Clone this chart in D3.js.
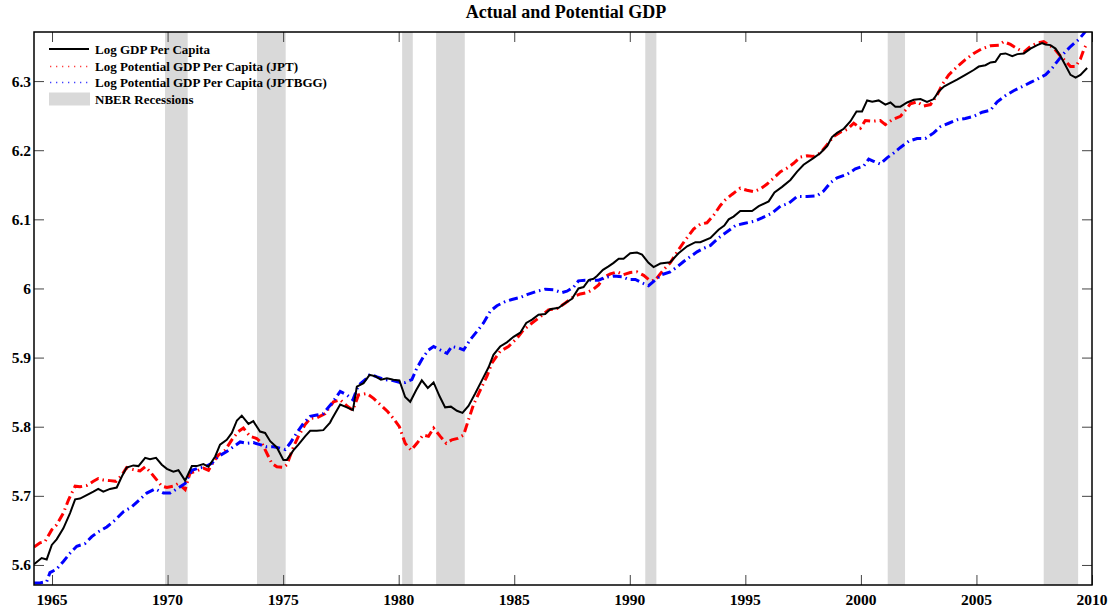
<!DOCTYPE html>
<html>
<meta charset="utf-8">
<style>
body {
	margin: 0;
	background: #fff;
}
svg {
	display: block;
}
text {
	font-family: "Liberation Serif", "Times New Roman", Times, serif;
	font-weight: bold;
}
.axis path {
	display: none;
}
.axis .tick line {
	stroke: #444;
	stroke-width: 1;
}
</style>
<body>
<script src="https://d3js.org/d3.v7.min.js"></script>
<script>
var title = "Actual and Potential GDP";
var seriesNames = ["Log GDP Per Capita", "Log Potential GDP Per Capita (JPT)", "Log Potential GDP Per Capita (JPTBGG)", "NBER Recessions"];
var xTicks = [1965, 1970, 1975, 1980, 1985, 1990, 1995, 2000, 2005, 2010];
var yTicks = [5.6, 5.7, 5.8, 5.9, 6.0, 6.1, 6.2, 6.3];

// NBER recession start / end
var recessions = [[1969.89, 1970.87], [1973.87, 1975.11], [1980.15, 1980.61], [1981.62, 1982.86],
	[1990.67, 1991.15], [2001.16, 2001.91], [2007.91, 2009.40]];

// log GDP per capita (year, value)
var gdp = [[1964.22,5.601],[1964.55,5.610],[1964.77,5.608],[1964.99,5.629],[1965.20,5.637],[1965.49,5.653],
	[1965.78,5.675],[1966.00,5.695],[1966.21,5.696],[1966.50,5.701],[1966.79,5.706],[1967.00,5.710],
	[1967.22,5.706],[1967.51,5.710],[1967.80,5.712],[1968.02,5.728],[1968.23,5.741],[1968.52,5.744],
	[1968.74,5.743],[1969.03,5.755],[1969.24,5.753],[1969.50,5.755],[1969.75,5.745],[1969.97,5.739],
	[1970.25,5.735],[1970.47,5.737],[1970.76,5.722],[1971.05,5.743],[1971.26,5.743],[1971.55,5.746],
	[1971.77,5.742],[1972.06,5.757],[1972.27,5.774],[1972.56,5.781],[1972.78,5.791],[1973.00,5.809],
	[1973.21,5.816],[1973.50,5.804],[1973.71,5.808],[1974.00,5.793],[1974.22,5.791],[1974.44,5.779],
	[1974.73,5.770],[1975.01,5.752],[1975.16,5.752],[1975.45,5.766],[1975.66,5.774],[1975.95,5.786],
	[1976.17,5.794],[1976.46,5.794],[1976.74,5.795],[1977.03,5.806],[1977.11,5.811],[1977.47,5.832],
	[1977.76,5.828],[1978.02,5.824],[1978.19,5.858],[1978.48,5.863],[1978.74,5.875],[1978.98,5.873],
	[1979.23,5.868],[1979.49,5.870],[1979.77,5.868],[1980.03,5.867],[1980.28,5.843],[1980.50,5.836],
	[1980.76,5.853],[1981.00,5.867],[1981.26,5.856],[1981.51,5.864],[1981.77,5.844],[1982.01,5.828],
	[1982.26,5.829],[1982.52,5.823],[1982.76,5.820],[1983.02,5.830],[1983.31,5.848],[1983.60,5.867],
	[1983.89,5.886],[1984.10,5.904],[1984.39,5.916],[1984.68,5.922],[1984.97,5.930],[1985.26,5.936],
	[1985.52,5.950],[1985.77,5.955],[1986.05,5.962],[1986.34,5.963],[1986.56,5.970],[1986.92,5.972],
	[1987.21,5.979],[1987.50,5.985],[1987.78,6.000],[1988.00,6.002],[1988.22,6.012],[1988.43,6.014],
	[1988.58,6.018],[1988.84,6.027],[1989.08,6.032],[1989.30,6.037],[1989.52,6.043],[1989.73,6.043],
	[1990.02,6.051],[1990.31,6.052],[1990.53,6.049],[1990.81,6.037],[1991.03,6.031],[1991.32,6.036],
	[1991.75,6.038],[1992.11,6.051],[1992.48,6.061],[1992.84,6.067],[1993.05,6.067],[1993.49,6.073],
	[1993.84,6.085],[1994.09,6.091],[1994.28,6.100],[1994.49,6.104],[1994.78,6.112],[1995.29,6.112],
	[1995.58,6.119],[1996.01,6.126],[1996.26,6.139],[1996.59,6.147],[1996.95,6.157],[1997.24,6.169],
	[1997.52,6.179],[1997.96,6.189],[1998.25,6.196],[1998.54,6.206],[1998.75,6.219],[1998.97,6.225],
	[1999.26,6.231],[1999.55,6.242],[1999.81,6.256],[2000.05,6.256],[2000.27,6.272],[2000.49,6.270],
	[2000.77,6.272],[2001.06,6.266],[2001.28,6.269],[2001.49,6.263],[2001.71,6.263],[2002.00,6.269],
	[2002.29,6.273],[2002.58,6.274],[2002.86,6.270],[2003.15,6.274],[2003.37,6.285],[2003.59,6.292],
	[2003.87,6.297],[2004.16,6.302],[2004.52,6.309],[2004.88,6.316],[2005.10,6.321],[2005.39,6.323],
	[2005.61,6.327],[2005.82,6.328],[2006.04,6.339],[2006.26,6.340],[2006.55,6.336],[2006.77,6.339],
	[2007.05,6.340],[2007.34,6.347],[2007.63,6.352],[2007.84,6.355],[2007.99,6.353],[2008.20,6.352],
	[2008.42,6.347],[2008.64,6.336],[2008.85,6.323],[2009.07,6.309],[2009.29,6.305],[2009.50,6.309],
	[2009.79,6.319]];

// log potential GDP per capita, JPT
var jpt = [[1964.22,5.626],[1964.48,5.632],[1964.70,5.634],[1964.99,5.651],[1965.20,5.658],[1965.49,5.675],
	[1965.71,5.694],[1966.00,5.714],[1966.21,5.713],[1966.50,5.715],[1966.79,5.721],[1967.00,5.725],
	[1967.22,5.723],[1967.51,5.722],[1967.77,5.721],[1968.02,5.730],[1968.23,5.741],[1968.52,5.738],
	[1968.81,5.736],[1969.03,5.742],[1969.24,5.735],[1969.53,5.723],[1969.75,5.714],[1969.97,5.712],
	[1970.25,5.714],[1970.47,5.718],[1970.76,5.709],[1970.97,5.733],[1971.26,5.736],[1971.55,5.740],
	[1971.77,5.737],[1971.98,5.749],[1972.20,5.759],[1972.49,5.766],[1972.78,5.781],[1973.06,5.793],
	[1973.28,5.798],[1973.57,5.786],[1973.86,5.783],[1974.08,5.776],[1974.29,5.762],[1974.51,5.747],
	[1974.73,5.742],[1975.01,5.741],[1975.16,5.745],[1975.45,5.771],[1975.66,5.786],[1975.95,5.803],
	[1976.17,5.812],[1976.46,5.813],[1976.82,5.819],[1977.18,5.836],[1977.47,5.839],[1977.76,5.830],
	[1978.02,5.824],[1978.26,5.846],[1978.62,5.848],[1978.91,5.841],[1979.20,5.832],[1979.52,5.822],
	[1979.77,5.812],[1980.03,5.800],[1980.28,5.776],[1980.54,5.766],[1980.79,5.776],[1981.05,5.788],
	[1981.29,5.786],[1981.51,5.798],[1981.80,5.786],[1982.06,5.776],[1982.30,5.781],[1982.55,5.783],
	[1982.81,5.788],[1983.02,5.810],[1983.24,5.832],[1983.53,5.853],[1983.82,5.873],[1984.03,5.892],
	[1984.39,5.909],[1984.75,5.916],[1985.12,5.928],[1985.40,5.940],[1985.77,5.950],[1986.13,5.959],
	[1986.48,5.969],[1986.85,5.971],[1987.21,5.979],[1987.57,5.988],[1987.86,5.992],[1988.15,5.994],
	[1988.43,5.999],[1988.65,6.005],[1988.87,6.016],[1989.16,6.021],[1989.45,6.024],[1989.73,6.020],
	[1990.02,6.023],[1990.31,6.024],[1990.60,6.019],[1990.89,6.011],[1991.10,6.012],[1991.46,6.027],
	[1991.75,6.037],[1992.11,6.056],[1992.40,6.070],[1992.76,6.086],[1993.05,6.093],[1993.34,6.095],
	[1993.63,6.106],[1993.92,6.120],[1994.13,6.128],[1994.42,6.136],[1994.78,6.145],[1995.07,6.142],
	[1995.36,6.140],[1995.65,6.144],[1995.94,6.151],[1996.23,6.160],[1996.52,6.169],[1996.80,6.174],
	[1997.09,6.181],[1997.38,6.190],[1997.67,6.192],[1997.96,6.191],[1998.25,6.196],[1998.54,6.208],
	[1998.82,6.220],[1999.11,6.226],[1999.40,6.230],[1999.69,6.239],[1999.98,6.232],[2000.19,6.243],
	[2000.55,6.242],[2000.84,6.243],[2001.06,6.237],[2001.35,6.244],[2001.71,6.249],[2001.93,6.258],
	[2002.14,6.267],[2002.43,6.270],[2002.72,6.264],[2003.01,6.266],[2003.30,6.280],[2003.52,6.295],
	[2003.80,6.309],[2004.17,6.321],[2004.52,6.331],[2004.88,6.340],[2005.25,6.347],[2005.61,6.351],
	[2005.97,6.352],[2006.18,6.357],[2006.47,6.353],[2006.76,6.347],[2007.05,6.342],[2007.34,6.350],
	[2007.63,6.355],[2007.91,6.357],[2008.20,6.351],[2008.42,6.345],[2008.64,6.336],[2008.85,6.329],
	[2009.07,6.321],[2009.29,6.321],[2009.50,6.332],[2009.65,6.346],[2009.79,6.355]];

// log potential GDP per capita, JPTBGG
var jptbgg = [[1964.22,5.574],[1964.48,5.574],[1964.77,5.576],[1964.91,5.589],[1965.20,5.594],[1965.49,5.605],
	[1965.78,5.617],[1966.07,5.627],[1966.43,5.631],[1966.72,5.641],[1967.00,5.648],[1967.37,5.655],
	[1967.73,5.665],[1968.09,5.677],[1968.45,5.684],[1968.81,5.695],[1969.10,5.704],[1969.46,5.710],
	[1969.82,5.704],[1970.11,5.704],[1970.40,5.710],[1970.76,5.718],[1971.05,5.737],[1971.33,5.740],
	[1971.62,5.742],[1971.91,5.747],[1972.20,5.757],[1972.56,5.764],[1972.85,5.771],[1973.14,5.778],
	[1973.43,5.776],[1973.71,5.777],[1974.00,5.774],[1974.29,5.771],[1974.58,5.771],[1974.87,5.769],
	[1975.09,5.767],[1975.30,5.776],[1975.59,5.791],[1975.88,5.805],[1976.17,5.815],[1976.46,5.817],
	[1976.74,5.819],[1977.11,5.834],[1977.47,5.851],[1977.76,5.846],[1978.02,5.839],[1978.26,5.860],
	[1978.55,5.868],[1978.77,5.876],[1979.06,5.872],[1979.42,5.868],[1979.71,5.867],[1980.06,5.864],
	[1980.28,5.864],[1980.57,5.868],[1980.79,5.885],[1981.07,5.901],[1981.29,5.911],[1981.51,5.916],
	[1981.80,5.911],[1982.09,5.906],[1982.30,5.916],[1982.59,5.914],[1982.81,5.911],[1983.10,5.926],
	[1983.39,5.938],[1983.67,5.950],[1983.96,5.967],[1984.25,5.975],[1984.61,5.981],[1984.90,5.984],
	[1985.26,5.987],[1985.55,5.991],[1985.98,5.996],[1986.34,5.999],[1986.70,5.998],[1987.06,5.994],
	[1987.28,5.996],[1987.57,6.002],[1987.78,6.011],[1988.07,6.012],[1988.36,6.012],[1988.65,6.012],
	[1988.94,6.016],[1989.30,6.018],[1989.66,6.017],[1989.95,6.013],[1990.24,6.013],[1990.53,6.008],
	[1990.81,6.004],[1991.10,6.012],[1991.39,6.020],[1991.75,6.024],[1992.04,6.031],[1992.33,6.039],
	[1992.62,6.046],[1992.91,6.053],[1993.19,6.058],[1993.48,6.062],[1993.84,6.073],[1994.21,6.082],
	[1994.57,6.091],[1994.93,6.094],[1995.36,6.097],[1995.72,6.102],[1996.16,6.109],[1996.52,6.119],
	[1996.87,6.123],[1997.24,6.133],[1997.67,6.133],[1998.10,6.134],[1998.39,6.141],[1998.68,6.153],
	[1998.97,6.160],[1999.40,6.165],[1999.76,6.173],[2000.12,6.177],[2000.34,6.187],[2000.55,6.184],
	[2000.84,6.180],[2001.13,6.189],[2001.42,6.196],[2001.71,6.204],[2002.07,6.213],[2002.43,6.217],
	[2002.79,6.217],[2003.15,6.225],[2003.44,6.234],[2003.80,6.239],[2004.17,6.244],[2004.52,6.246],
	[2004.88,6.249],[2005.25,6.255],[2005.61,6.258],[2005.90,6.270],[2006.26,6.279],[2006.61,6.286],
	[2006.98,6.292],[2007.34,6.298],[2007.70,6.304],[2007.99,6.309],[2008.28,6.319],[2008.56,6.331],
	[2008.78,6.340],[2009.07,6.350],[2009.42,6.360],[2009.65,6.369],[2009.85,6.378]];

var width = 1112, height = 609,
	margin = {top: 32, right: 20, bottom: 24, left: 34};

var x = d3.scaleLinear()
	.domain([1964.22, 2010])
	.range([margin.left, width - margin.right]);
var y = d3.scaleLinear()
	.domain([5.571, 6.371])
	.range([height - margin.bottom, margin.top]);

var svg = d3.select("body").append("svg")
	.attr("width", width)
	.attr("height", height);

svg.append("defs").append("clipPath")
	.attr("id", "plotclip")
	.append("rect")
	.attr("x", x.range()[0])
	.attr("y", y.range()[1])
	.attr("width", x.range()[1] - x.range()[0])
	.attr("height", y.range()[0] - y.range()[1]);

var plot = svg.append("g").attr("clip-path", "url(#plotclip)");

// recession bands
plot.selectAll(".band")
	.data(recessions)
	.enter().append("rect")
	.attr("class", "band")
	.attr("x", function(d) { return x(d[0]); })
	.attr("y", y.range()[1])
	.attr("width", function(d) { return x(d[1]) - x(d[0]); })
	.attr("height", y.range()[0] - y.range()[1])
	.style("fill", "#d9d9d9");

// axes with inward ticks on all four sides
var tickLen = 10;
svg.append("g")
	.attr("class", "axis")
	.attr("transform", "translate(0," + y.range()[0] + ")")
	.call(d3.axisTop(x).tickValues(xTicks).tickSize(tickLen).tickFormat(""));
svg.append("g")
	.attr("class", "axis")
	.attr("transform", "translate(0," + y.range()[1] + ")")
	.call(d3.axisBottom(x).tickValues(xTicks).tickSize(tickLen).tickFormat(""));
svg.append("g")
	.attr("class", "axis")
	.attr("transform", "translate(" + x.range()[0] + ",0)")
	.call(d3.axisRight(y).tickValues(yTicks).tickSize(tickLen).tickFormat(""));
svg.append("g")
	.attr("class", "axis")
	.attr("transform", "translate(" + x.range()[1] + ",0)")
	.call(d3.axisLeft(y).tickValues(yTicks).tickSize(tickLen).tickFormat(""));

svg.selectAll(".xlabel")
	.data(xTicks)
	.enter().append("text")
	.attr("class", "xlabel")
	.attr("x", function(d) { return x(d); })
	.attr("y", y.range()[0] + 20)
	.attr("text-anchor", "middle")
	.attr("font-size", "15.5px")
	.text(function(d) { return d; });

svg.selectAll(".ylabel")
	.data(yTicks)
	.enter().append("text")
	.attr("class", "ylabel")
	.attr("x", x.range()[0] - 3)
	.attr("y", function(d) { return y(d); })
	.attr("dy", "0.35em")
	.attr("text-anchor", "end")
	.attr("font-size", "15.5px")
	.text(function(d) { return d3.format("")(+d.toFixed(1)); });

// series
var line = d3.line()
	.x(function(d) { return x(d[0]); })
	.y(function(d) { return y(d[1]); });

plot.append("path")
	.datum(jpt)
	.attr("d", line)
	.attr("fill", "none")
	.attr("stroke", "#ff0000")
	.attr("stroke-width", 3)
	.attr("stroke-dasharray", "9,4,1.5,4");
plot.append("path")
	.datum(jptbgg)
	.attr("d", line)
	.attr("fill", "none")
	.attr("stroke", "#0000ff")
	.attr("stroke-width", 3)
	.attr("stroke-dasharray", "9,4,1.5,4");
plot.append("path")
	.datum(gdp)
	.attr("d", line)
	.attr("fill", "none")
	.attr("stroke", "#000")
	.attr("stroke-width", 2);

// plot box
svg.append("rect")
	.attr("x", x.range()[0])
	.attr("y", y.range()[1])
	.attr("width", x.range()[1] - x.range()[0])
	.attr("height", y.range()[0] - y.range()[1])
	.attr("fill", "none")
	.attr("stroke", "#000")
	.attr("stroke-width", 1.5);

// title
svg.append("text")
	.attr("x", (x.range()[0] + x.range()[1]) / 2 + 3)
	.attr("y", 18)
	.attr("text-anchor", "middle")
	.attr("font-size", "18px")
	.text(title);

// legend
var legendColors = ["#000", "#ff4040", "#4040ff"];
var legend = svg.selectAll(".legend")
	.data(seriesNames)
	.enter().append("g")
	.attr("class", "legend")
	.attr("transform", function(d, i) { return "translate(49," + Math.round(49 + i * 16.7) + ")"; });

legend.each(function(d, i) {
	var g = d3.select(this);
	if (i == 3) {
		g.append("rect")
			.attr("x", 0).attr("y", -6.5)
			.attr("width", 41).attr("height", 13)
			.style("fill", "#d9d9d9");
	} else if (i == 0) {
		g.append("line")
			.attr("x1", 0).attr("x2", 40)
			.style("stroke", legendColors[i])
			.style("stroke-width", 2);
	} else {
		g.append("line")
			.attr("x1", 1).attr("x2", 40)
			.attr("y1", 0.5).attr("y2", 0.5)
			.style("stroke", legendColors[i])
			.style("stroke-width", 1.3)
			.style("stroke-dasharray", "1.3,4.7");
	}
});
legend.append("text")
	.attr("x", 46)
	.attr("dy", "0.35em")
	.attr("font-size", "13px")
	.text(function(d) { return d; });
</script>
</body>
</html>
